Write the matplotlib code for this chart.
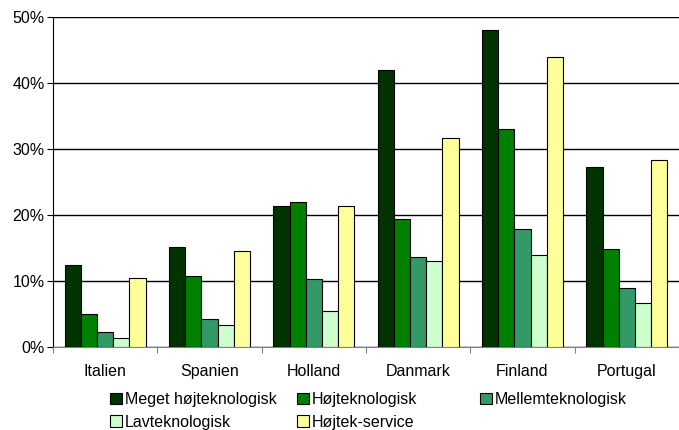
import matplotlib.pyplot as plt
import numpy as np
from matplotlib.ticker import PercentFormatter

plt.rcParams['font.family'] = ['Liberation Sans', 'DejaVu Sans']

countries = ["Italien", "Spanien", "Holland", "Danmark", "Finland", "Portugal"]
series_names = ["Meget højteknologisk", "Højteknologisk", "Mellemteknologisk",
                "Lavteknologisk", "Højtek-service"]
meget_hoej = [12.4, 15.2, 21.3, 41.9, 48.0, 27.2]
hoej = [5.0, 10.7, 21.9, 19.4, 33.0, 14.8]
mellem = [2.2, 4.3, 10.25, 13.7, 17.9, 9.0]
lav = [1.4, 3.3, 5.4, 13.1, 14.0, 6.6]
hoejtek_service = [10.4, 14.5, 21.3, 31.6, 44.0, 28.3]
colors = ["#003300", "#008000", "#339966", "#CCFFCC", "#FFFF99"]

data = [meget_hoej, hoej, mellem, lav, hoejtek_service]

fig = plt.figure(figsize=(6.79, 4.30), dpi=100)
ax = fig.add_axes([0.078, 0.193, 0.922, 0.7675])

x = np.arange(len(countries))
w = 0.155
handles = []
for i, (vals, name, c) in enumerate(zip(data, series_names, colors)):
    h = ax.bar(x + (i - 2) * w, vals, width=w, color=c, edgecolor='black',
               linewidth=0.8, label=name, zorder=3)
    handles.append(h)

ax.set_xlim(-0.5, 5.46)
ax.set_ylim(0, 50)
ax.set_yticks(np.arange(0, 51, 10))
ax.yaxis.set_major_formatter(PercentFormatter(decimals=0))
ax.grid(axis='y', color='black', linewidth=1, zorder=0)

ax.set_xticks(np.arange(-0.5, 6, 1))
ax.set_xticklabels([])
ax.set_xticks(x, minor=True)
ax.set_xticklabels(countries, minor=True)
ax.tick_params(axis='x', which='minor', length=0, pad=12, labelsize=11.5)
ax.tick_params(axis='x', which='major', length=4, color='#808080')
ax.tick_params(axis='y', length=4, labelsize=11.5, pad=2)

for s in ['top', 'right']:
    ax.spines[s].set_visible(False)
ax.spines['bottom'].set_color('#808080')
ax.spines['left'].set_color('black')

# legend in three columns placed like the original
groups = [[0, 3], [1, 4], [2]]
xs = [0.162, 0.437, 0.707]
for g, xpos in zip(groups, xs):
    fig.legend([handles[i] for i in g], [series_names[i] for i in g],
               loc='upper left', bbox_to_anchor=(xpos, 0.088), ncol=1,
               frameon=False, fontsize=11.5, handlelength=0.75, handleheight=0.75,
               handletextpad=0.2, labelspacing=0.48, borderpad=0, borderaxespad=0)

fig.savefig("out.png", dpi=100)
